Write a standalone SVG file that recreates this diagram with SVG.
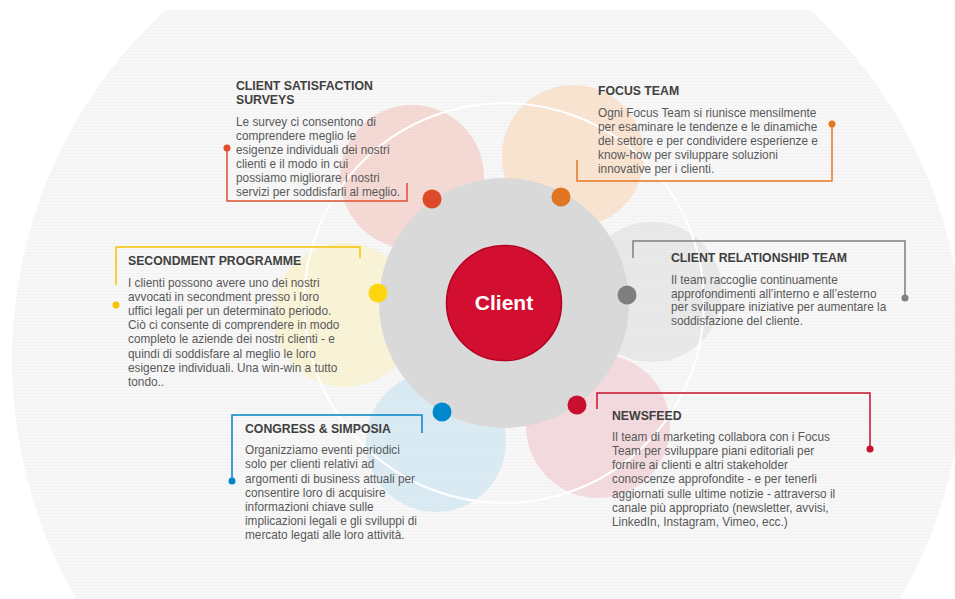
<svg xmlns="http://www.w3.org/2000/svg" width="955" height="599" viewBox="0 0 955 599">
<style>
.t{font-family:"Liberation Sans",Arial,sans-serif;font-weight:bold;font-size:13.5px;fill:#404040}
.b{font-family:"Liberation Sans",Arial,sans-serif;font-size:13px;fill:#595959}
.ln{fill:none;stroke-width:1.5}
.petal{opacity:0.45}
</style>
<defs>
<clipPath id="bgclip"><rect x="0" y="10" width="955" height="589"/></clipPath>
<pattern id="grid" width="3" height="3" patternUnits="userSpaceOnUse">
<rect width="3" height="3" fill="#f7f7f7"/>
<rect width="3" height="1" fill="#f3f3f3"/>
</pattern>
</defs>
<rect width="955" height="599" fill="#ffffff"/>
<g id="background" clip-path="url(#bgclip)">
<circle cx="488" cy="360" r="476" fill="url(#grid)"/>
</g>
<g id="petals">
<circle class="petal" cx="412" cy="177" r="72" fill="#f2b3aa"/>
<circle class="petal" cx="573" cy="156" r="71" fill="#fbc9a1"/>
<circle class="petal" cx="652" cy="292" r="70" fill="#d6d6d6"/>
<circle class="petal" cx="598" cy="426" r="72" fill="#eeb6c0"/>
<circle class="petal" cx="436" cy="442" r="70" fill="#b9dcf0"/>
<circle class="petal" cx="345" cy="315" r="72" fill="#fbeeb0"/>
</g>
<circle id="ring" cx="504" cy="303" r="200" fill="none" stroke="#ffffff" stroke-width="2"/>
<g id="client">
<circle cx="504" cy="303" r="125" fill="#d9d9d9"/>
<circle cx="504" cy="303" r="57.5" fill="#d20f31" stroke="#b5001e" stroke-width="1.5"/>
<text x="504" y="310" text-anchor="middle" font-family="Liberation Sans,Arial,sans-serif" font-weight="bold" font-size="21" fill="#ffffff">Client</text>
</g>
<g id="connectors">
<polyline class="ln" stroke="#e0502f" points="227,148 227,201 407,201 407,183"/>
<circle cx="227" cy="148" r="3.5" fill="#e0502f"/>
<polyline class="ln" stroke="#e87722" points="577,160 577,181 832,181 832,124"/>
<circle cx="832" cy="124" r="3.5" fill="#e87722"/>
<polyline class="ln" stroke="#7f7f7f" points="633,258 633,241 905,241 905,298"/>
<circle cx="905" cy="298" r="3.5" fill="#7f7f7f"/>
<polyline class="ln" stroke="#c8102e" points="597,409 597,393 870,393 870,449"/>
<circle cx="870" cy="449" r="3.5" fill="#c8102e"/>
<polyline class="ln" stroke="#0085c8" points="232,481 232,415 422,415 422,433"/>
<circle cx="232" cy="481" r="3.5" fill="#0085c8"/>
<polyline class="ln" stroke="#f5c400" points="116,285 116,247 360,247 360,258"/>
<circle cx="116" cy="305" r="3.5" fill="#f5c400"/>
</g>
<g id="satisfaction">
<circle cx="432" cy="199" r="9.5" fill="#dc4a2a"/>
<g transform="translate(236,0) scale(0.91,1)">
<text class="t" x="0" y="90">CLIENT SATISFACTION</text>
<text class="t" x="0" y="104">SURVEYS</text>
<text class="b" x="0" y="126">Le survey ci consentono di</text>
<text class="b" x="0" y="140">comprendere meglio le</text>
<text class="b" x="0" y="154">esigenze individuali dei nostri</text>
<text class="b" x="0" y="168">clienti e il modo in cui</text>
<text class="b" x="0" y="182">possiamo migliorare i nostri</text>
<text class="b" x="0" y="196">servizi per soddisfarli al meglio.</text>
</g>
</g>
<g id="focus">
<circle cx="561" cy="197" r="9.5" fill="#e07522"/>
<g transform="translate(598,0) scale(0.91,1)">
<text class="t" x="0" y="95">FOCUS TEAM</text>
<text class="b" x="0" y="117">Ogni Focus Team si riunisce mensilmente</text>
<text class="b" x="0" y="131">per esaminare le tendenze e le dinamiche</text>
<text class="b" x="0" y="145">del settore e per condividere esperienze e</text>
<text class="b" x="0" y="159">know-how per sviluppare soluzioni</text>
<text class="b" x="0" y="173">innovative per i clienti.</text>
</g>
</g>
<g id="relationship">
<circle cx="627" cy="295" r="9.5" fill="#7f7f7f"/>
<g transform="translate(671,0) scale(0.91,1)">
<text class="t" x="0" y="262">CLIENT RELATIONSHIP TEAM</text>
<text class="b" x="0" y="284">Il team raccoglie continuamente</text>
<text class="b" x="0" y="298">approfondimenti all’interno e all’esterno</text>
<text class="b" x="0" y="311">per sviluppare iniziative per aumentare la</text>
<text class="b" x="0" y="325">soddisfazione del cliente.</text>
</g>
</g>
<g id="newsfeed">
<circle cx="577" cy="405" r="9.5" fill="#c8102e"/>
<g transform="translate(612,0) scale(0.91,1)">
<text class="t" x="0" y="420">NEWSFEED</text>
<text class="b" x="0" y="441">Il team di marketing collabora con i Focus</text>
<text class="b" x="0" y="455">Team per sviluppare piani editoriali per</text>
<text class="b" x="0" y="469">fornire ai clienti e altri stakeholder</text>
<text class="b" x="0" y="483">conoscenze approfondite - e per tenerli</text>
<text class="b" x="0" y="498">aggiornati sulle ultime notizie - attraverso il</text>
<text class="b" x="0" y="512">canale più appropriato (newsletter, avvisi,</text>
<text class="b" x="0" y="526">LinkedIn, Instagram, Vimeo, ecc.)</text>
</g>
</g>
<g id="congress">
<circle cx="442" cy="412" r="9.5" fill="#0088cc"/>
<g transform="translate(245,0) scale(0.91,1)">
<text class="t" x="0" y="433">CONGRESS &amp; SIMPOSIA</text>
<text class="b" x="0" y="454">Organizziamo eventi periodici</text>
<text class="b" x="0" y="468">solo per clienti relativi ad</text>
<text class="b" x="0" y="483">argomenti di business attuali per</text>
<text class="b" x="0" y="497">consentire loro di acquisire</text>
<text class="b" x="0" y="511">informazioni chiave sulle</text>
<text class="b" x="0" y="525">implicazioni legali e gli sviluppi di</text>
<text class="b" x="0" y="539">mercato legati alle loro attività.</text>
</g>
</g>
<g id="secondment">
<circle cx="378" cy="293" r="9.5" fill="#ffd510"/>
<g transform="translate(128,0) scale(0.91,1)">
<text class="t" x="0" y="265">SECONDMENT PROGRAMME</text>
<text class="b" x="0" y="287">I clienti possono avere uno dei nostri</text>
<text class="b" x="0" y="301">avvocati in secondment presso i loro</text>
<text class="b" x="0" y="315">uffici legali per un determinato periodo.</text>
<text class="b" x="0" y="329">Ciò ci consente di comprendere in modo</text>
<text class="b" x="0" y="343">completo le aziende dei nostri clienti - e</text>
<text class="b" x="0" y="358">quindi di soddisfare al meglio le loro</text>
<text class="b" x="0" y="372">esigenze individuali. Una win-win a tutto</text>
<text class="b" x="0" y="386">tondo..</text>
</g>
</g>
</svg>
